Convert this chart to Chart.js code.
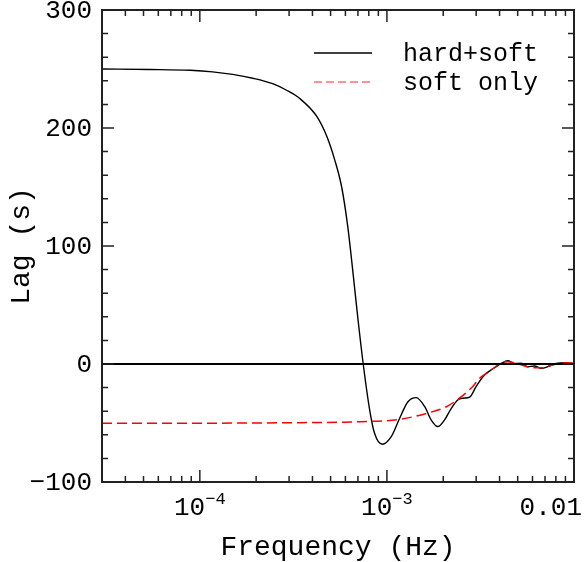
<!DOCTYPE html>
<html>
<head>
<meta charset="utf-8">
<script src="https://cdn.jsdelivr.net/npm/chart.js@4"></script>
<style>
  html, body { margin: 0; padding: 0; background: #fff; }
  #wrap { width: 585px; height: 562px; }
</style>
</head>
<body>
<div id="wrap"><canvas id="lagChart" width="585" height="562"></canvas></div>
<script>
// hard+soft lag (s) vs frequency (Hz)
const freqHard = [3.0e-5, 5.4e-5, 8.9e-5, 1.17e-4, 1.5e-4, 1.92e-4, 2.45e-4, 2.91e-4, 3.42e-4,
  4.21e-4, 4.77e-4, 5.26e-4, 5.73e-4, 6.17e-4, 6.56e-4, 6.98e-4, 7.47e-4, 8.09e-4, 8.59e-4,
  9.45e-4, 1.055e-3, 1.17e-3, 1.295e-3, 1.435e-3, 1.59e-3, 1.726e-3, 1.87e-3, 2.03e-3, 2.21e-3,
  2.39e-3, 2.55e-3, 2.77e-3, 3.0e-3, 3.32e-3, 3.61e-3, 3.84e-3, 4.08e-3, 4.43e-3, 4.81e-3,
  5.22e-3, 5.66e-3, 6.15e-3, 6.67e-3, 7.39e-3, 8.02e-3, 9.07e-3, 1.0e-2]
const lagHard = [250, 249.6, 248.9, 247.6, 245.4, 242.2, 237.6, 232, 225,
  210, 193, 173, 150, 117, 80, 40, 0, -39, -58.7,
  -68, -61.6, -46, -32, -28.5, -36, -47.5, -53, -47.5, -37.6,
  -30.5, -29, -28, -19, -9.3, -5, -2.3, 0.5, 2.8, 0.5,
  0.6, -2.3, -1.7, -3.7, -1.7, 0.5, 1.1, 0.5]

// soft only
const freqSoft = [3.0e-5, 1.0e-4, 3.42e-4, 7.14e-4, 1.17e-3, 1.63e-3, 2.08e-3, 2.44e-3, 2.87e-3,
  3.13e-3, 3.41e-3, 3.85e-3, 4.0e-3, 4.41e-3, 5.1e-3, 6.0e-3, 6.78e-3, 7.67e-3, 9.1e-3, 1.0e-2]
const lagSoft = [-50.3, -50.2, -49.7, -48.9, -46.9, -41.8, -36.2, -29, -19.2,
  -12.1, -7.9, -1.7, 0.5, 2, -0.3, -3.1, -3.1, -0.8, 1.1, 0.5]

const xMajor = [1e-4, 1e-3, 1e-2]
const xMajorLabels = [['10', '-4'], ['10', '-3'], ['0.01', '']]
const yMajor = [-100, 0, 100, 200, 300]

const toPoints = (xs, ys) => xs.map((x, i) => ({ x: x, y: ys[i] }))

const FONT = '"Liberation Mono", "DejaVu Sans Mono", monospace'

const framePlugin = {
  id: 'frame',
  afterDraw(chart) {
    const ctx = chart.ctx
    const a = chart.chartArea
    const xs = chart.scales.x
    const ys = chart.scales.y
    ctx.save()
    ctx.strokeStyle = '#222'
    ctx.lineWidth = 2
    ctx.strokeRect(a.left, a.top, a.right - a.left, a.bottom - a.top)

    // x ticks, bottom and top, inward
    ctx.lineWidth = 1.5
    for (let d = -5; d <= -2; d++) {
      for (let m = 1; m <= 9; m++) {
        const v = m * Math.pow(10, d)
        if (v < xs.min * 1.001 || v > xs.max * 1.001) continue
        const px = xs.getPixelForValue(v)
        const len = m === 1 ? 12 : 6
        ctx.beginPath()
        ctx.moveTo(px, a.bottom); ctx.lineTo(px, a.bottom - len)
        ctx.moveTo(px, a.top); ctx.lineTo(px, a.top + len)
        ctx.stroke()
      }
    }
    // y ticks, left and right
    for (let v = -100; v <= 300; v += 20) {
      const py = ys.getPixelForValue(v)
      const len = v % 100 === 0 ? 12 : 6
      ctx.beginPath()
      ctx.moveTo(a.left, py); ctx.lineTo(a.left + len, py)
      ctx.moveTo(a.right, py); ctx.lineTo(a.right - len, py)
      ctx.stroke()
    }

    // y tick labels
    ctx.fillStyle = '#000'
    ctx.font = '26px ' + FONT
    ctx.textAlign = 'right'
    ctx.textBaseline = 'middle'
    yMajor.forEach(v => {
      ctx.fillText(String(v).replace('-', '\u2212'), a.left - 10, ys.getPixelForValue(v) + 1)
    })

    // x tick labels with superscripts
    ctx.textBaseline = 'alphabetic'
    ctx.textAlign = 'left'
    xMajor.forEach((v, i) => {
      const [base, sup] = xMajorLabels[i]
      ctx.font = '26px ' + FONT
      const wb = ctx.measureText(base).width
      ctx.font = '17px ' + FONT
      const ws = sup ? ctx.measureText(sup.replace('-', '\u2212')).width : 0
      let left = xs.getPixelForValue(v) - (wb + ws) / 2
      if (left + wb + ws > chart.width - 3) left = chart.width - 3 - wb - ws
      ctx.font = '26px ' + FONT
      ctx.fillText(base, left, 515)
      if (sup) {
        ctx.font = '17px ' + FONT
        ctx.fillText(sup.replace('-', '\u2212'), left + wb, 504)
      }
    })

    // axis titles
    ctx.font = '28px ' + FONT
    ctx.textAlign = 'center'
    ctx.fillText('Frequency (Hz)', (a.left + a.right) / 2, 555)
    ctx.save()
    ctx.translate(22, (a.top + a.bottom) / 2)
    ctx.rotate(-Math.PI / 2)
    ctx.textBaseline = 'middle'
    ctx.fillText('Lag (s)', 0, 0)
    ctx.restore()

    // legend
    ctx.lineWidth = 1.5
    ctx.strokeStyle = '#000'
    ctx.beginPath(); ctx.moveTo(314, 53); ctx.lineTo(372, 53); ctx.stroke()
    ctx.strokeStyle = '#ff7070'
    ctx.setLineDash([8, 4])
    ctx.beginPath(); ctx.moveTo(314, 82); ctx.lineTo(372, 82); ctx.stroke()
    ctx.setLineDash([])
    ctx.font = '25px ' + FONT
    ctx.textAlign = 'left'
    ctx.textBaseline = 'middle'
    ctx.fillText('hard+soft', 403, 54)
    ctx.fillText('soft only', 403, 83)
    ctx.restore()
  }
}

const hidden = {
  display: true,
  grid: { display: false, drawTicks: false },
  border: { display: false },
  ticks: { display: false },
  title: { display: false }
}

new Chart(document.getElementById('lagChart').getContext('2d'), {
  type: 'line',
  data: {
    datasets: [
      {
        label: 'zero',
        data: toPoints([3e-5, 1e-2], [0, 0]),
        borderColor: '#000',
        borderWidth: 1.8,
        pointRadius: 0
      },
      {
        label: 'soft only',
        data: toPoints(freqSoft, lagSoft),
        borderColor: '#ff0000',
        borderWidth: 1.5,
        borderDash: [10, 5],
        pointRadius: 0,
        cubicInterpolationMode: 'monotone'
      },
      {
        label: 'hard+soft',
        data: toPoints(freqHard, lagHard),
        borderColor: '#000',
        borderWidth: 1.4,
        pointRadius: 0,
        cubicInterpolationMode: 'monotone'
      }
    ]
  },
  options: {
    responsive: false,
    animation: false,
    layout: { padding: { left: 102, right: 11, top: 10, bottom: 80 } },
    plugins: {
      legend: { display: false },
      tooltip: { enabled: false }
    },
    scales: {
      x: Object.assign({}, hidden, { type: 'logarithmic', min: 3e-5, max: 1e-2 }),
      y: Object.assign({}, hidden, { type: 'linear', min: -100, max: 300 })
    }
  },
  plugins: [framePlugin]
})
</script>
</body>
</html>
